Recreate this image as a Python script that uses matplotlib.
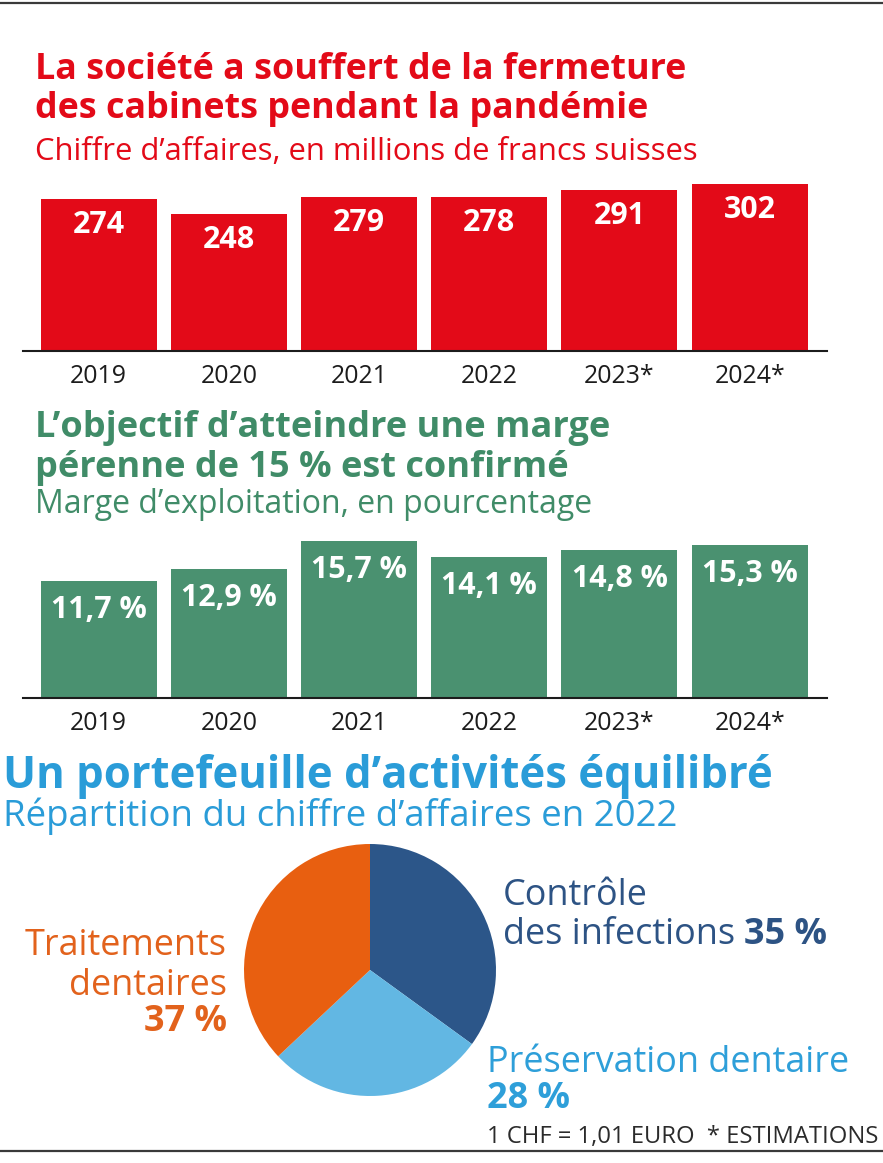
import matplotlib
matplotlib.use("Agg")
import matplotlib.pyplot as plt
from matplotlib.transforms import Affine2D
from matplotlib.lines import Line2D

# ---------------- data ----------------
years = ["2019", "2020", "2021", "2022", "2023*", "2024*"]
revenue = [274, 248, 279, 278, 291, 302]
revenue_labels = ["274", "248", "279", "278", "291", "302"]
margin = [11.7, 12.9, 15.7, 14.1, 14.8, 15.3]
margin_labels = ["11,7 %", "12,9 %", "15,7 %", "14,1 %", "14,8 %", "15,3 %"]
segments = ["Contrôle des infections", "Préservation dentaire", "Traitements dentaires"]
shares = [35, 28, 37]

# ---------------- style ----------------
RED = "#E30A18"
GREEN_BAR = "#4A9170"
GREEN_TXT = "#408C68"
BLUE_TITLE = "#2A9CD8"
DARK_BLUE = "#2C5689"
DARK_BLUE_TXT = "#2D5384"
LIGHT_BLUE = "#62B7E3"
LIGHT_BLUE_TXT = "#2E9FD9"
ORANGE = "#E85F10"
ORANGE_TXT = "#E2621C"
INK = "#1c1c1c"

W, H = 883, 1163
plt.rcParams['font.family'] = ['Open Sans', 'DejaVu Sans']
fig = plt.figure(figsize=(W / 100, H / 100), dpi=100)
fig.patch.set_facecolor("white")
PX = Affine2D().scale(1 / W, -1 / H).translate(0, 1) + fig.transFigure
renderer = fig.canvas.get_renderer()


def measure(s, size, weight="normal"):
    t = fig.text(0, 0, s, fontsize=size, fontweight=weight)
    w = t.get_window_extent(renderer).width
    t.remove()
    return w


def fit_size(s, width, weight="normal", base=20):
    return base * width / measure(s, base, weight)


def txt(x, y, s, size, color, weight="normal", ha="left", width=None):
    if width:
        size = fit_size(s, width, weight, size)
    return fig.text(x, y, s, transform=PX, fontsize=size, color=color,
                    fontweight=weight, ha=ha, va="baseline")


def runs(x, y, parts, size):
    for s, weight, color in parts:
        t = fig.text(x, y, s, transform=PX, fontsize=size, color=color,
                     fontweight=weight, ha="left", va="baseline")
        x += t.get_window_extent(renderer).width


def ax_px(x0, y0, x1, y1):
    return fig.add_axes([x0 / W, 1 - y1 / H, (x1 - x0) / W, (y1 - y0) / H])


# border lines
fig.add_artist(Line2D([0, W], [2.5, 2.5], transform=PX, lw=1.6, color="#3a3a3a"))
fig.add_artist(Line2D([0, W], [1151, 1151], transform=PX, lw=1.6, color="#3a3a3a"))

# ---------------- titles ----------------
t = txt(35, 79, "La société a souffert de la fermeture", 22, RED, "bold", width=650)
fs = t.get_fontsize()
txt(35, 118, "des cabinets pendant la pandémie", fs, RED, "bold")
txt(35, 160, "Chiffre d’affaires, en millions de francs suisses", 20, RED, width=662)

t = txt(35, 437, "L’objectif d’atteindre une marge", 22, GREEN_TXT, "bold", width=573)
fs = t.get_fontsize()
txt(35, 477, "pérenne de 15 % est confirmé", fs, GREEN_TXT, "bold")
txt(35, 513, "Marge d’exploitation, en pourcentage", 20, GREEN_TXT, width=556)

txt(3, 788, "Un portefeuille d’activités équilibré", 22, BLUE_TITLE, "bold", width=767)
txt(3, 826, "Répartition du chiffre d’affaires en 2022", 22, BLUE_TITLE, width=675)

# ---------------- bar charts ----------------
x_lim = (-0.581, 5.594)
bar_w = 0.891
positions = list(range(len(years)))
VAL_FS = fit_size("274", 52, "bold")
YEAR_FS = fit_size("2019", 57)


def bar_panel(ax, values, labels, color, ymax, label_off_px):
    ax.bar(positions, values, width=bar_w, color=color, zorder=1)
    ax.set_xlim(*x_lim)
    ax.set_ylim(0, ymax)
    for s in ("top", "left", "right"):
        ax.spines[s].set_visible(False)
    ax.spines["bottom"].set_linewidth(1.5)
    ax.spines["bottom"].set_color(INK)
    ax.spines["bottom"].set_zorder(3)
    ax.set_xticks([])
    ax.set_yticks([])
    ax.patch.set_alpha(0)
    for i, (v, lab, yr) in enumerate(zip(values, labels, years)):
        ax.annotate(lab, xy=(i, v), xytext=(0, -label_off_px * 0.72),
                    textcoords="offset points", ha="center", va="baseline",
                    color="white", fontweight="bold", fontsize=VAL_FS,
                    annotation_clip=False)
        ax.annotate(yr, xy=(i, 0), xytext=(0, -32 * 0.72),
                    textcoords="offset points", ha="center", va="baseline",
                    color=INK, fontsize=YEAR_FS, annotation_clip=False)


ax1 = ax_px(23, 170, 827, 351)
bar_panel(ax1, revenue, revenue_labels, RED, (351 - 170) / 0.553, 34)

ax2 = ax_px(23, 530, 827, 698)
bar_panel(ax2, margin, margin_labels, GREEN_BAR, 16.8, 37)

# ---------------- pie ----------------
ax3 = ax_px(244, 844, 496, 1096)
ax3.pie(shares, colors=[DARK_BLUE, LIGHT_BLUE, ORANGE], startangle=90,
        counterclock=False, radius=1, wedgeprops=dict(linewidth=0))
ax3.set_xlim(-1, 1)
ax3.set_ylim(-1, 1)
ax3.set_aspect("equal")
ax3.axis("off")

PIE_FS = fit_size("Préservation dentaire", 362)
txt(503, 905, "Contrôle", PIE_FS, DARK_BLUE_TXT)
runs(503, 944, [("des infections ", "normal", DARK_BLUE_TXT),
                (f"{shares[0]} %", "bold", DARK_BLUE_TXT)], PIE_FS)

txt(227, 955, "Traitements", PIE_FS, ORANGE_TXT, ha="right")
txt(227, 995, "dentaires", PIE_FS, ORANGE_TXT, ha="right")
txt(227, 1031, f"{shares[2]} %", PIE_FS, ORANGE_TXT, "bold", ha="right")

txt(487, 1072, "Préservation dentaire", PIE_FS, LIGHT_BLUE_TXT)
txt(487, 1108, f"{shares[1]} %", PIE_FS, LIGHT_BLUE_TXT, "bold")

txt(487, 1143, "1 CHF = 1,01 EURO  * ESTIMATIONS", 16, "#2b2b2b", width=391)

fig.savefig("out.png", dpi=100)
